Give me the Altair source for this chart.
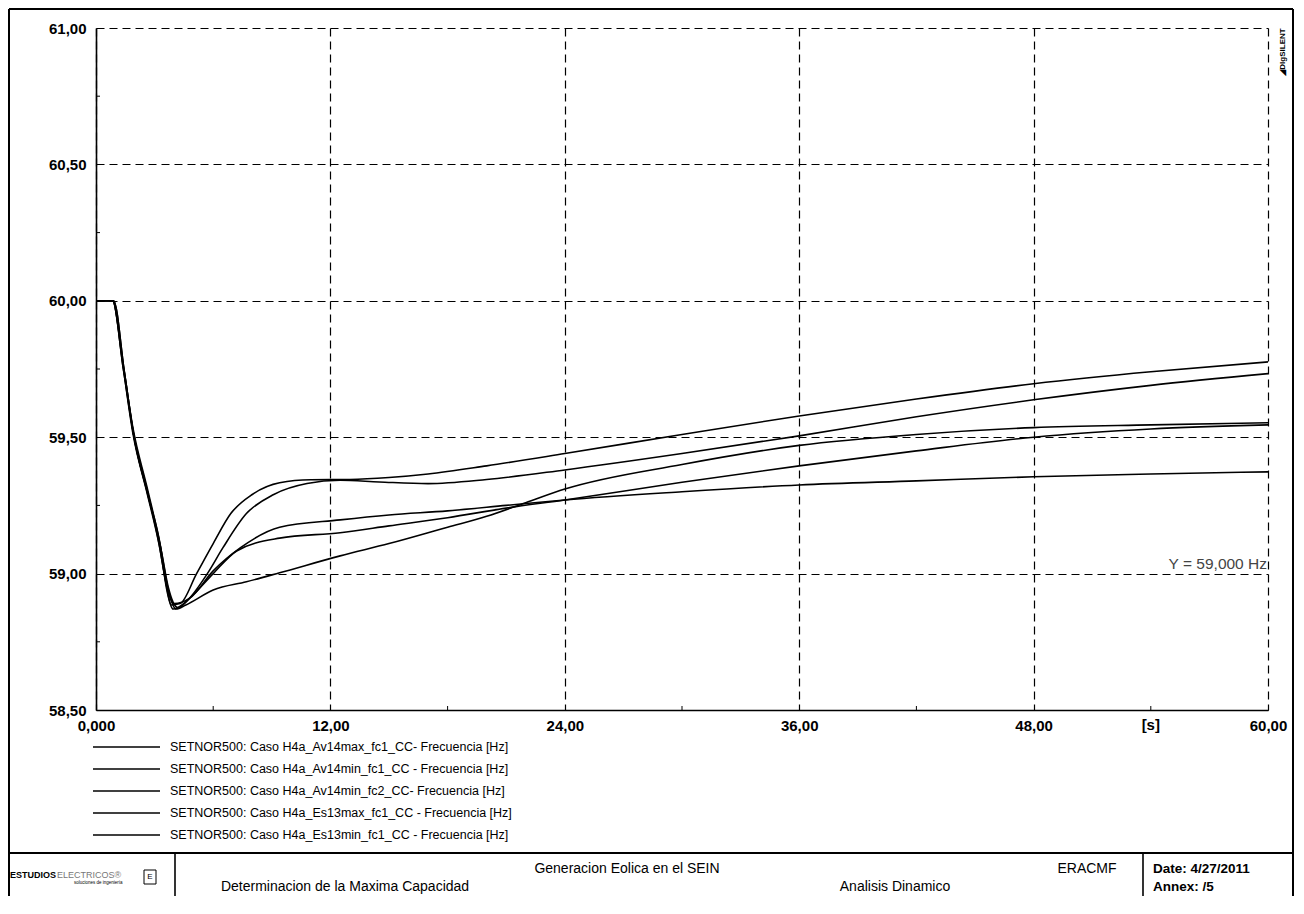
import altair as alt
import pandas as pd

# ---------------- data ----------------
series_names = [
    "SETNOR500: Caso H4a_Av14max_fc1_CC- Frecuencia [Hz]",
    "SETNOR500: Caso H4a_Av14min_fc1_CC - Frecuencia [Hz]",
    "SETNOR500: Caso H4a_Av14min_fc2_CC- Frecuencia [Hz]",
    "SETNOR500: Caso H4a_Es13max_fc1_CC - Frecuencia [Hz]",
    "SETNOR500: Caso H4a_Es13min_fc1_CC - Frecuencia [Hz]",
]

t_a = [0, 0.85, 1.4, 1.9, 2.6, 3.2, 3.55, 3.85, 4.3, 5.15, 6.0, 6.9, 8.0, 9.4, 11.0, 13.0, 15.0, 17.0, 20.0, 24.0, 30.0, 36.0, 42.0, 48.0, 54.0, 60.0]
f_a = [60.0, 60.0, 59.75, 59.52, 59.31, 59.12, 58.98, 58.885, 58.89, 59.0, 59.11, 59.22, 59.29, 59.333, 59.344, 59.345, 59.352, 59.365, 59.395, 59.44, 59.51, 59.578, 59.64, 59.696, 59.74, 59.776]

t_b = [0, 0.9, 1.45, 1.95, 2.65, 3.3, 3.6, 3.95, 4.65, 5.7, 6.5, 7.7, 9.1, 10.8, 12.5, 14.5, 17.0, 20.0, 24.0, 30.0, 36.0, 42.0, 48.0, 54.0, 60.0]
f_b = [60.0, 60.0, 59.74, 59.5, 59.29, 59.1, 58.95, 58.87, 58.9, 59.0, 59.095, 59.22, 59.29, 59.33, 59.342, 59.336, 59.33, 59.345, 59.38, 59.44, 59.505, 59.575, 59.637, 59.69, 59.733]

t_c = [0, 0.85, 1.4, 1.9, 2.6, 3.3, 3.7, 4.1, 4.6, 6.0, 7.7, 9.4, 12.5, 15.0, 18.0, 20.0, 22.0, 24.0, 30.0, 36.0, 42.0, 48.0, 54.0, 60.0]
f_c = [60.0, 60.0, 59.76, 59.53, 59.32, 59.1, 58.94, 58.87, 58.885, 58.94, 58.97, 59.003, 59.065, 59.11, 59.17, 59.21, 59.26, 59.31, 59.40, 59.47, 59.51, 59.535, 59.545, 59.553]

t_d = [0, 0.9, 1.45, 1.95, 2.7, 3.35, 3.7, 4.2, 4.8, 6.0, 7.2, 9.4, 12.5, 15.0, 18.0, 21.0, 24.0, 30.0, 36.0, 42.0, 48.0, 54.0, 60.0]
f_d = [60.0, 60.0, 59.74, 59.5, 59.28, 59.08, 58.95, 58.875, 58.91, 59.0, 59.083, 59.13, 59.15, 59.175, 59.205, 59.24, 59.27, 59.335, 59.395, 59.45, 59.50, 59.53, 59.545]

t_e = [0, 0.85, 1.4, 1.9, 2.6, 3.25, 3.6, 4.0, 4.8, 6.0, 7.4, 9.4, 12.5, 15.0, 18.0, 21.0, 24.0, 30.0, 36.0, 42.0, 48.0, 54.0, 60.0]
f_e = [60.0, 60.0, 59.75, 59.51, 59.3, 59.1, 58.96, 58.89, 58.91, 59.01, 59.095, 59.17, 59.197, 59.215, 59.23, 59.25, 59.27, 59.30, 59.325, 59.34, 59.355, 59.365, 59.373]

x_ticks = [0, 12, 24, 36, 48, 60]
y_ticks = [58.5, 59.0, 59.5, 60.0, 60.5, 61.0]
x_minor = [6, 18, 30, 42, 54]
y_minor = [58.75, 59.25, 59.75, 60.25, 60.75]
ref_line = [59.0]
ref_label = ["Y = 59,000 Hz"]
x_unit = ["[s]"]

footer_title = "Generacion Eolica en el SEIN"
footer_sub = "Determinacion de la Maxima Capacidad"
footer_code = "ERACMF"
footer_kind = "Analisis Dinamico"
footer_date = "Date:  4/27/2011"
footer_annex = "Annex:  /5"

# ---------------- build tables ----------------
rows = []
for name, ts, fs in zip(series_names, [t_a, t_b, t_c, t_d, t_e], [f_a, f_b, f_c, f_d, f_e]):
    for t, f in zip(ts, fs):
        rows.append({"series": name, "t": t, "f": f})
df = pd.DataFrame(rows)

W, H = 1172, 682
FONT = "Liberation Sans"

x_enc = alt.X("t:Q", scale=alt.Scale(domain=[0, 60], nice=False, zero=False),
              axis=alt.Axis(values=x_ticks, title=None, ticks=False, labelPadding=8,
                            labelExpr="datum.value == 0 ? '0,000' : replace(format(datum.value, '.2f'), '.', ',')",
                            labelFont=FONT, labelFontSize=15, labelFontWeight="bold", labelColor="black",
                            labelFlush=False, labelOverlap=False, domainColor="black", domainWidth=1.6,
                            grid=True, gridColor="black", gridDash=[8, 5], gridWidth=1.2, gridOpacity=1))
y_enc = alt.Y("f:Q", scale=alt.Scale(domain=[58.5, 61.0], nice=False, zero=False),
              axis=alt.Axis(values=y_ticks, title=None, ticks=False, labelPadding=10,
                            labelExpr="replace(format(datum.value, '.2f'), '.', ',')",
                            labelFont=FONT, labelFontSize=15, labelFontWeight="bold", labelColor="black",
                            labelOverlap=False, domainColor="black", domainWidth=1.6,
                            grid=True, gridColor="black", gridDash=[8, 5], gridWidth=1.2, gridOpacity=1))

lines = alt.Chart(df).mark_line(color="black", strokeWidth=1.6, interpolate="monotone").encode(
    x=x_enc, y=y_enc, detail="series:N", order="t:Q")

minor_y = alt.Chart(pd.DataFrame({"f": y_minor})).mark_rule(color="black", strokeWidth=1).encode(
    y="f:Q", x=alt.value(0), x2=alt.value(4))
minor_x = alt.Chart(pd.DataFrame({"t": x_minor})).mark_rule(color="black", strokeWidth=1).encode(
    x="t:Q", y=alt.value(H), y2=alt.value(H - 4))

ref_txt = alt.Chart(pd.DataFrame({"t": [60], "f": ref_line, "lbl": ref_label})).mark_text(
    align="right", baseline="bottom", dx=-1, dy=-2, font=FONT, fontSize=15.5, color="#444").encode(
    x="t:Q", y="f:Q", text="lbl:N")

unit_txt = alt.Chart(pd.DataFrame({"t": [54.0], "lbl": x_unit})).mark_text(
    align="center", baseline="top", font=FONT, fontSize=15, fontWeight="bold", color="black").encode(
    x="t:Q", y=alt.value(H + 8), text="lbl:N")

one = pd.DataFrame({"k": [0]})


def hrule(x1, x2, y, w=2):
    return alt.Chart(one).mark_rule(color="black", strokeWidth=w).encode(
        x=alt.value(x1), x2=alt.value(x2), y=alt.value(y))


def vrule(x, y1, y2, w=2):
    return alt.Chart(one).mark_rule(color="black", strokeWidth=w).encode(
        x=alt.value(x), y=alt.value(y1), y2=alt.value(y2))


def txt(s, x, y, size=13, align="left", font=FONT, weight="normal", angle=0, color="black"):
    return alt.Chart(one).mark_text(text=s, align=align, baseline="middle", font=font,
                                    fontSize=size, fontWeight=weight, angle=angle, color=color).encode(
        x=alt.value(x), y=alt.value(y))


layers = [lines, minor_y, minor_x, ref_txt, unit_txt]

# legend (manual, one row per series)
for i, name in enumerate(series_names):
    yy = 719 + i * 22
    layers.append(hrule(-3, 64, yy, 1.3))
    layers.append(txt(name, 74, yy, size=12.5))

# outer frame and title block
L, R, T, B = -87, 1197, -19, 868
FY = 825
icon = alt.Chart(one).mark_rect(fill="white", stroke="black", strokeWidth=1).encode(
    x=alt.value(48), x2=alt.value(60), y=alt.value(842), y2=alt.value(856))
layers += [
    hrule(L, R, T), vrule(L, T, B), vrule(R, T, B),
    hrule(L, R, FY, 2.2), vrule(79, FY, B, 1.6), vrule(1047, FY, B, 1.6),
    txt("ESTUDIOS", -86, 847, size=9, weight="bold"),
    txt("ELECTRICOS®", -39, 847, size=9, color="#777"),
    txt("soluciones de ingeniería", -22, 855, size=4.5),
    icon,
    txt("E", 54, 849, size=8, align="center"),
    txt(footer_title, 531, 841, size=14, align="center"),
    txt(footer_code, 991, 841, size=14, align="center"),
    txt(footer_date, 1057, 841, size=13.5, weight="bold"),
    txt(footer_sub, 249, 859, size=14, align="center"),
    txt(footer_kind, 799, 859, size=14, align="center"),
    txt(footer_annex, 1057, 859, size=13.5, weight="bold"),
    txt("◢DIgSILENT", 1187, 24, size=8, weight="bold", angle=270, align="center"),
]

chart = alt.layer(*layers).properties(
    width=W, height=H,
    padding={"left": 88, "top": 20, "right": 26, "bottom": 186},
    autosize=alt.AutoSizeParams(type="none"),
    background="white",
).configure_view(stroke=None)

chart.save("out.html", embed_options={"renderer": "svg", "actions": False})
